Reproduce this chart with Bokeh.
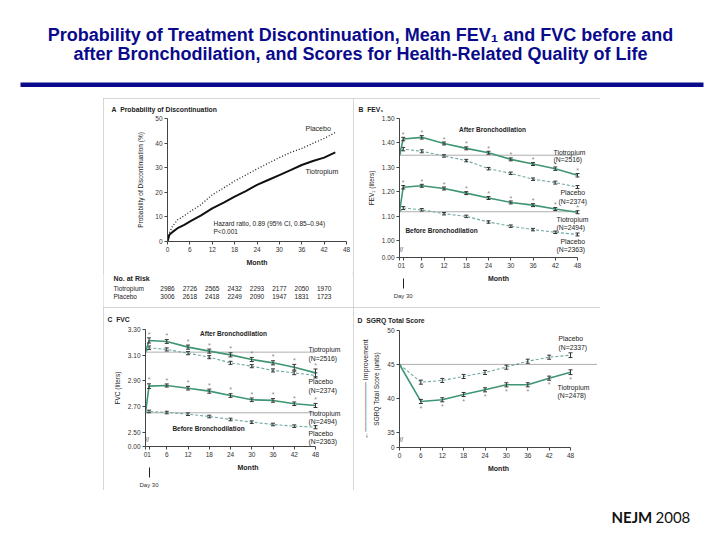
import math
from bokeh.plotting import figure
from bokeh.models import (Range1d, FixedTicker, Label, LinearAxis, Span, Spacer)
from bokeh.layouts import column, row
from bokeh.embed import file_html
from bokeh.resources import INLINE
from bokeh.core.properties import value

FONT = "Liberation Sans"
NAVY = "#0a0a8c"
TIO = "#3f9673"
PLA = "#6fa9a3"
INK = "#333333"
FRAME = "#c8c8c8"
OUTLINE = {"outline": "1px solid " + FRAME, "outline-offset": "-1px"}
SP = "\u00a0\u00a0"

# ---------------- data ----------------
title_line1 = "Probability of Treatment Discontinuation, Mean FEV\u2081 and FVC before and"
title_line2 = "after Bronchodilation, and Scores for Health-Related Quality of Life"
source_bold = "NEJM"
source_year = "2008"

# Panel A: probability of discontinuation (%)
disc_months = [0, 0.5, 1.3, 2.7, 4.5, 6.3, 8.9, 12, 15.2, 18, 21, 24, 27, 30, 33, 36, 39, 42, 45]
disc_placebo = [0, 3.5, 6.1, 8.8, 10.5, 12.4, 14.9, 19.0, 21.9, 24.6, 27.0, 29.5, 31.8, 34.1, 36.2, 37.8, 39.9, 41.9, 44.3]
disc_tio = [0, 2.7, 3.8, 5.4, 6.8, 8.4, 10.5, 13.5, 15.9, 18.2, 20.5, 23.0, 25.0, 27.0, 29.0, 31.1, 32.7, 34.1, 36.2]
disc_ticks_x = [0, 6, 12, 18, 24, 30, 36, 42, 48]
disc_ticks_y = [0, 10, 20, 30, 40, 50]
risk_months = [0, 6, 12, 18, 24, 30, 36, 42]
risk_tio = [2986, 2726, 2565, 2432, 2293, 2177, 2050, 1970]
risk_pla = [3006, 2618, 2418, 2249, 2090, 1947, 1831, 1723]

# Panel B: FEV1 (liters)
lung_months = [0, 1, 6, 12, 18, 24, 30, 36, 42, 48]
fev_after_tio = [1.350, 1.416, 1.423, 1.398, 1.378, 1.360, 1.333, 1.314, 1.295, 1.268]
fev_after_pla = [1.350, 1.375, 1.366, 1.347, 1.328, 1.295, 1.276, 1.252, 1.238, 1.220]
fev_before_tio = [1.119, 1.219, 1.225, 1.214, 1.195, 1.175, 1.157, 1.146, 1.130, 1.117]
fev_before_pla = [1.119, 1.134, 1.127, 1.111, 1.100, 1.077, 1.060, 1.046, 1.035, 1.026]
fev_err_after_tio = [0.007, 0.007, 0.006, 0.006, 0.006, 0.006, 0.006, 0.007, 0.007]
fev_err_after_pla = [0.007, 0.006, 0.005, 0.005, 0.005, 0.005, 0.005, 0.006, 0.006]
fev_err_before_tio = [0.007, 0.006, 0.006, 0.006, 0.006, 0.006, 0.006, 0.006, 0.006]
fev_err_before_pla = [0.006, 0.005, 0.005, 0.005, 0.005, 0.005, 0.005, 0.005, 0.006]
fev_baselines = [1.350, 1.119]
fev_ticks = [0.932, 1.0, 1.1, 1.2, 1.3, 1.4, 1.5]
fev_tick_labels = ["0.00", "1.00", "1.10", "1.20", "1.30", "1.40", "1.50"]

# Panel C: FVC (liters)
fvc_after_tio = [3.124, 3.215, 3.207, 3.163, 3.132, 3.103, 3.067, 3.041, 3.007, 2.963]
fvc_after_pla = [3.124, 3.158, 3.145, 3.116, 3.085, 3.041, 3.015, 2.982, 2.963, 2.943]
fvc_before_tio = [2.653, 2.860, 2.865, 2.844, 2.821, 2.787, 2.754, 2.749, 2.723, 2.710]
fvc_before_pla = [2.653, 2.663, 2.655, 2.642, 2.624, 2.601, 2.580, 2.562, 2.549, 2.541]
fvc_err_after_tio = [0.020, 0.015, 0.016, 0.016, 0.016, 0.016, 0.016, 0.022, 0.030]
fvc_err_after_pla = [0.014, 0.012, 0.012, 0.012, 0.012, 0.012, 0.012, 0.014, 0.020]
fvc_err_before_tio = [0.018, 0.012, 0.014, 0.016, 0.014, 0.014, 0.014, 0.014, 0.016]
fvc_err_before_pla = [0.010, 0.010, 0.010, 0.010, 0.010, 0.010, 0.010, 0.010, 0.012]
fvc_baselines = [3.124, 2.653]
fvc_ticks = [2.391, 2.5, 2.7, 2.9, 3.1, 3.3]
fvc_tick_labels = ["0.00", "2.50", "2.70", "2.90", "3.10", "3.30"]
lung_ticks_x = [0, 1, 6, 12, 18, 24, 30, 36, 42, 48]

# Panel D: SGRQ total score (units)
sgrq_months = [0, 6, 12, 18, 24, 30, 36, 42, 48]
sgrq_tio = [45.0, 39.53, 39.78, 40.56, 41.25, 41.99, 41.99, 42.97, 43.85]
sgrq_pla = [45.0, 42.38, 42.63, 43.22, 43.81, 44.59, 45.47, 46.06, 46.36]
sgrq_err_tio = [0.30, 0.30, 0.30, 0.30, 0.30, 0.30, 0.30, 0.35]
sgrq_err_pla = [0.30, 0.30, 0.30, 0.30, 0.30, 0.30, 0.30, 0.35]
sgrq_baseline = 45.0
sgrq_ticks = [32.74, 35, 40, 45, 50]
sgrq_tick_labels = ["0", "35", "40", "45", "50"]
sgrq_ticks_x = [0, 6, 12, 18, 24, 30, 36, 42, 48]


# ---------------- helpers ----------------
def no_align(p):
    if "frame_align" in p.properties():
        p.frame_align = False


def make_panel(w, h, left, right, top, bottom, xr, yr, title, title_x, title_standoff,
               styles=None):
    p = figure(width=w, height=h, x_range=Range1d(*xr), y_range=Range1d(*yr),
               output_backend="svg", toolbar_location=None,
               min_border_left=left, min_border_right=right,
               min_border_top=top, min_border_bottom=bottom,
               styles=styles if styles is not None else {})
    no_align(p)
    p.grid.visible = False
    p.outline_line_color = None
    p.border_fill_color = "white"
    p.title.text = title
    p.title.text_font = FONT
    p.title.text_font_size = "6.8px"
    p.title.text_font_style = "bold"
    p.title.text_color = "#222222"
    p.title.align = "left"
    p.title.vertical_align = "middle"
    p.title.offset = title_x - left
    p.title.standoff = title_standoff
    fw = w - left - right
    fh = h - top - bottom

    def at(cx, cy):
        return (xr[0] + (cx - left) / fw * (xr[1] - xr[0]),
                yr[1] - (cy - top) / fh * (yr[1] - yr[0]))
    for ax in p.axis:
        ax.major_label_text_font = FONT
        ax.major_label_text_font_size = "6.5px"
        ax.major_label_text_color = "#333333"
        ax.axis_label_text_font = FONT
        ax.axis_label_text_font_size = "6.5px"
        ax.axis_label_text_font_style = "normal"
        ax.axis_label_text_color = "#222222"
        ax.major_tick_in = 0
        ax.major_tick_out = 3
        ax.minor_tick_line_color = None
        ax.axis_line_color = "#444444"
        ax.major_tick_line_color = "#444444"
        ax.major_label_standoff = 2
        ax.axis_label_standoff = 4
    p.xaxis.axis_label_text_font_style = "bold"
    p.xaxis.axis_label_text_font_size = "7px"
    p.xaxis.axis_label = "Month"
    return p, at


def lab(p, pos, text, size="6.5px", bold=False, align="left", baseline="middle", color="#222222"):
    p.add_layout(Label(x=pos[0], y=pos[1], text=text, text_font=FONT, text_font_size=size,
                       text_font_style="bold" if bold else "normal", text_align=align,
                       text_baseline=baseline, text_color=color))


def series(p, x, y, err, color, dash, width, star=None):
    p.line(x, y, line_color=color, line_width=width, line_dash=dash)
    xe = x[1:]
    ye = y[1:]
    lo = [a - e for a, e in zip(ye, err)]
    hi = [a + e for a, e in zip(ye, err)]
    p.segment(x0=xe, y0=lo, x1=xe, y1=hi, line_color=INK, line_width=1)
    p.scatter(xe, lo, marker="dash", size=4, line_color=INK, line_width=1)
    p.scatter(xe, hi, marker="dash", size=4, line_color=INK, line_width=1)
    if star is not None:
        sy = [v + star for v in (hi if star > 0 else lo)]
        p.text(x=xe, y=sy, text=["*"] * len(xe), text_font=value(FONT), text_font_size="7px",
               text_color="#888888", text_align="center", text_baseline="middle")


def day30_axis(p):
    ax = LinearAxis(ticker=FixedTicker(ticks=[1]), major_label_overrides={1: "Day 30"},
                    axis_line_color=None, major_tick_in=6, major_tick_out=4,
                    major_tick_line_color="#222222", minor_tick_line_color=None,
                    major_label_text_font=FONT, major_label_text_font_size="6px",
                    major_label_text_color="#333333", major_label_standoff=4)
    p.add_layout(ax, "below")


def break_mark(p, y):
    p.text(x=[0], y=[y], text=["//"], text_font=value(FONT), text_font_size="6.5px",
           text_color="#444444", text_align="left", text_baseline="middle")


def blank(w, h):
    p = figure(width=w, height=h, x_range=Range1d(0, w), y_range=Range1d(h, 0),
               output_backend="svg", toolbar_location=None, x_axis_type=None,
               y_axis_type=None, min_border=0)
    no_align(p)
    p.grid.visible = False
    p.outline_line_color = None
    return p


# ---------------- header ----------------
header = blank(720, 98)
header.text(x=[360, 360], y=[34.5, 53.5], text=[title_line1, title_line2],
            text_font=value(FONT), text_font_style="bold", text_font_size="18px",
            text_color=NAVY, text_align="center", text_baseline="alphabetic")
header.quad(left=[20], right=[703], top=[82], bottom=[86.5], fill_color=NAVY, line_color=None)

# ---------------- panel A ----------------
pa, atA = make_panel(250, 175, 64, 7, 20, 32, (0, 48), (0, 50),
                     "A" + SP + "Probability of Discontinuation", 8, 9)
pa.xaxis.ticker = FixedTicker(ticks=disc_ticks_x)
pa.yaxis.ticker = FixedTicker(ticks=disc_ticks_y)
pa.yaxis.axis_label = "Probability of Discontinuation (%)"
pa.yaxis.axis_label_standoff = 8
pa.line(disc_months, disc_placebo, line_color="#222222", line_width=1.3, line_dash="1 2")
pa.line(disc_months, disc_tio, line_color="#111111", line_width=2)
lab(pa, atA(202, 30), "Placebo", size="7px")
lab(pa, atA(202, 73), "Tiotropium", size="7px")
lab(pa, atA(110, 125), "Hazard ratio, 0.89 (95% CI, 0.85\u20130.94)")
lab(pa, atA(110, 133), "P<0.001")

# number-at-risk table, same month scale as panel A (frame spans the whole table canvas)
tab_x0 = -64 * 48 / 179
tab_x1 = (250 - 64) * 48 / 179
pa_tab = figure(width=250, height=34, x_range=Range1d(tab_x0, tab_x1), y_range=Range1d(34, 0),
                output_backend="svg", toolbar_location=None, x_axis_type=None, y_axis_type=None,
                min_border=0)
no_align(pa_tab)
pa_tab.grid.visible = False
pa_tab.outline_line_color = None
lab_x = tab_x0 + 10 * 48 / 179
pa_tab.text(x=[lab_x], y=[4.5], text=["No. at Risk"], text_font=value(FONT), text_font_style="bold",
            text_font_size="7px", text_color="#222222", text_baseline="middle")
pa_tab.text(x=[lab_x, lab_x], y=[14.7, 23], text=["Tiotropium", "Placebo"], text_font=value(FONT),
            text_font_size="6.5px", text_color="#222222", text_baseline="middle")
pa_tab.text(x=risk_months, y=[14.7] * len(risk_months), text=[str(v) for v in risk_tio],
            text_font=value(FONT), text_font_size="6.5px", text_color="#222222",
            text_align="center", text_baseline="middle")
pa_tab.text(x=risk_months, y=[23] * len(risk_months), text=[str(v) for v in risk_pla],
            text_font=value(FONT), text_font_size="6.5px", text_color="#222222",
            text_align="center", text_baseline="middle")
colA = column(pa, pa_tab, styles=OUTLINE)

# ---------------- panel B ----------------
pb, atB = make_panel(247, 209, 46, 3, 20, 50, (0, 48 * 198 / 178), (0.932, 1.50),
                     "B" + SP + "FEV\u2081", 5, 9, OUTLINE)
pb.xaxis.ticker = FixedTicker(ticks=lung_ticks_x)
pb.xaxis.bounds = (lung_months[0], lung_months[-1])
pb.yaxis.ticker = FixedTicker(ticks=fev_ticks)
pb.yaxis.major_label_overrides = dict(zip(fev_ticks, fev_tick_labels))
pb.yaxis.axis_label = "FEV\u2081 (liters)"
for b in fev_baselines:
    pb.line([lung_months[0], lung_months[-1]], [b, b], line_color="#333333",
            line_width=0.8, line_dash="1 1")
series(pb, lung_months, fev_after_pla, fev_err_after_pla, PLA, "3 2", 1.1)
series(pb, lung_months, fev_before_pla, fev_err_before_pla, PLA, "3 2", 1.1)
series(pb, lung_months, fev_after_tio, fev_err_after_tio, TIO, "solid", 1.6, star=0.012)
series(pb, lung_months, fev_before_tio, fev_err_before_tio, TIO, "solid", 1.6, star=0.012)
lab(pb, atB(139, 31), "After Bronchodilation", bold=True, align="center")
lab(pb, atB(88, 132), "Before Bronchodilation", bold=True, align="center")
for (cx, cy, t) in [(200, 53.7, "Tiotropium"), (200, 61.3, "(N=2516)"),
                    (207, 93.7, "Placebo"), (205, 102.7, "(N=2374)"),
                    (203, 121, "Tiotropium"), (203, 129.3, "(N=2494)"),
                    (207, 142.7, "Placebo"), (203, 151.3, "(N=2363)")]:
    lab(pb, atB(cx, cy), t, size="6.8px")
break_mark(pb, (0.932 + 1.0) / 2)
day30_axis(pb)

# ---------------- panel C ----------------
pc, atC = make_panel(250, 183, 42, 3, 22, 44, (0, 48 * 205 / 170), (2.391, 3.30),
                     "C" + SP + "FVC", 4, 11, OUTLINE)
pc.xaxis.ticker = FixedTicker(ticks=lung_ticks_x)
pc.xaxis.bounds = (lung_months[0], lung_months[-1])
pc.yaxis.ticker = FixedTicker(ticks=fvc_ticks)
pc.yaxis.major_label_overrides = dict(zip(fvc_ticks, fvc_tick_labels))
pc.yaxis.axis_label = "FVC (liters)"
for b in fvc_baselines:
    pc.line([lung_months[0], lung_months[-1]], [b, b], line_color="#333333",
            line_width=0.8, line_dash="1 1")
series(pc, lung_months, fvc_after_pla, fvc_err_after_pla, PLA, "3 2", 1.1)
series(pc, lung_months, fvc_before_pla, fvc_err_before_pla, PLA, "3 2", 1.1)
series(pc, lung_months, fvc_after_tio, fvc_err_after_tio, TIO, "solid", 1.6, star=0.03)
series(pc, lung_months, fvc_before_tio, fvc_err_before_tio, TIO, "solid", 1.6, star=0.03)
lab(pc, atC(130, 26), "After Bronchodilation", bold=True, align="center")
lab(pc, atC(105, 121), "Before Bronchodilation", bold=True, align="center")
for (cx, cy, t) in [(205, 42, "Tiotropium"), (205, 50.7, "(N=2516)"),
                    (205, 74, "Placebo"), (205, 83, "(N=2374)"),
                    (205, 105.7, "Tiotropium"), (205, 114, "(N=2494)"),
                    (205, 126.0, "Placebo"), (205, 134.0, "(N=2363)")]:
    lab(pc, atC(cx, cy), t, size="6.8px")
break_mark(pc, (2.391 + 2.5) / 2)
day30_axis(pc)

# ---------------- panel D ----------------
pd_, atD = make_panel(247, 183, 46, 3, 23, 43, (0, 48 * 198 / 171), (32.74, 50),
                      "D" + SP + "SGRQ Total Score", 4, 11, OUTLINE)
pd_.xaxis.ticker = FixedTicker(ticks=sgrq_ticks_x)
pd_.xaxis.bounds = (sgrq_months[0], sgrq_months[-1])
pd_.yaxis.ticker = FixedTicker(ticks=sgrq_ticks)
pd_.yaxis.major_label_overrides = dict(zip(sgrq_ticks, sgrq_tick_labels))
pd_.yaxis.axis_label = "SGRQ Total Score (units)"
pd_.add_layout(Span(location=sgrq_baseline, dimension="width", line_color="#333333",
                    line_width=0.8, line_dash="1 1"))
series(pd_, sgrq_months, sgrq_pla, sgrq_err_pla, PLA, "3 2", 1.1)
series(pd_, sgrq_months, sgrq_tio, sgrq_err_tio, TIO, "solid", 1.6, star=-0.7)
for (cx, cy, t) in [(205, 31.3, "Placebo"), (205, 39.7, "(N=2337)"),
                    (204, 79.7, "Tiotropium"), (204, 88, "(N=2478)")]:
    lab(pd_, atD(cx, cy), t, size="6.8px")
imp_axis = LinearAxis(ticker=FixedTicker(ticks=[]), axis_line_color=None,
                      major_tick_line_color=None, minor_tick_line_color=None,
                      axis_label="\u2190" + "\u2500" * 10 + " Improvement",
                      axis_label_text_font=FONT, axis_label_text_font_size="7px",
                      axis_label_text_font_style="normal", axis_label_text_color="#222222",
                      axis_label_standoff=2)
pd_.add_layout(imp_axis, "left")
break_mark(pd_, (32.74 + 35) / 2)

# ---------------- footer ----------------
footer = blank(720, 50)
footer.text(x=[611], y=[26.5], text=[source_bold], text_font=value("Lato"), text_font_style="bold",
            text_font_size="15px", text_color="#111111", text_align="left",
            text_baseline="alphabetic")
footer.text(x=[655], y=[26.5], text=[source_year], text_font=value("Lato"),
            text_font_size="15px", text_color="#111111", text_align="left",
            text_baseline="alphabetic")

panels = column(row(colA, pb), row(pc, pd_))
layout = column(header, row(Spacer(width=103, height=392), panels), footer)

open("out.html", "w").write(file_html(layout, INLINE))
